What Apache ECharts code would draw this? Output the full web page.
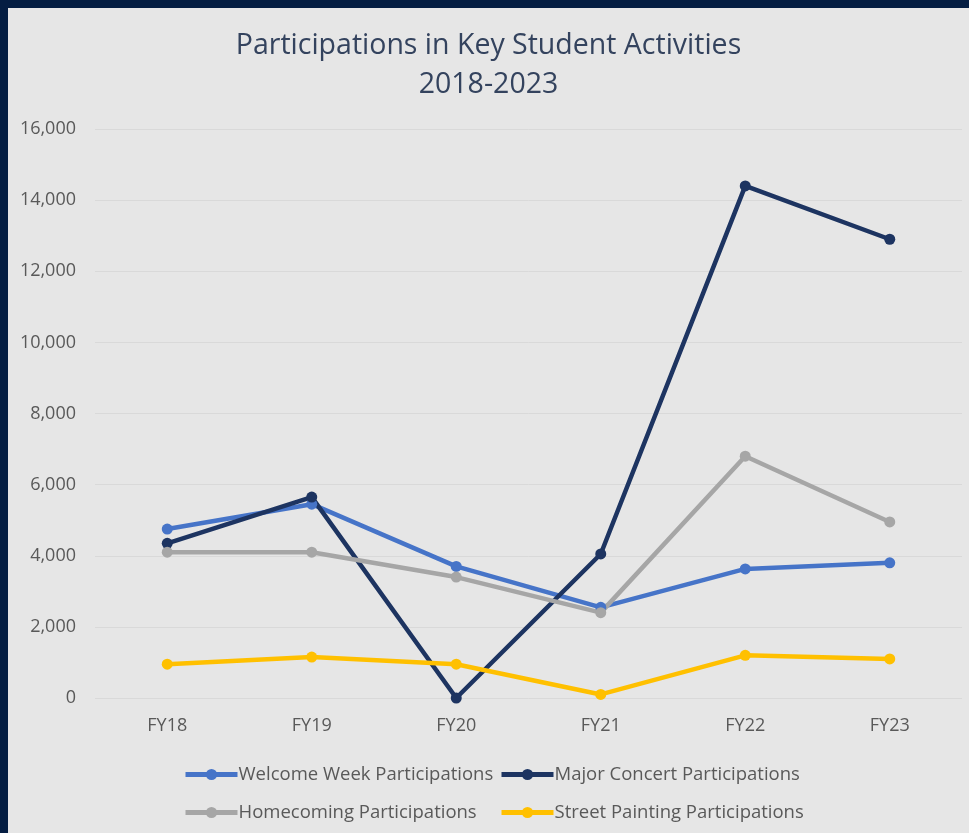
<!DOCTYPE html>
<html>
<head>
<meta charset="utf-8">
<script src="https://cdn.jsdelivr.net/npm/echarts@6/dist/echarts.min.js"></script>
<style>
html,body{margin:0;padding:0;background:#041d42;width:969px;height:833px;overflow:hidden;}
#c{position:absolute;left:8px;top:8px;width:961px;height:825px;}
</style>
</head>
<body>
<div id="c"></div>
<script>
const categories = ['FY18','FY19','FY20','FY21','FY22','FY23'];
const welcomeWeek = [4750, 5450, 3700, 2550, 3630, 3800];
const majorConcert = [4350, 5650, 0, 4050, 14400, 12900];
const homecoming = [4100, 4100, 3400, 2400, 6800, 4950];
const streetPainting = [950, 1150, 950, 100, 1200, 1100];
const seriesNames = ['Welcome Week Participations','Major Concert Participations','Homecoming Participations','Street Painting Participations'];
const colors = ['#4674c8','#1d3461','#a6a6a6','#ffc000'];

const chart = echarts.init(document.getElementById('c'));
const font = 'Open Sans';
function mk(name, data, color){
  return {name, type:'line', data, color, symbol:'circle', symbolSize:11,
    lineStyle:{width:4.5, color}, itemStyle:{color}, animation:false};
}
function lg(name, left, top){
  return {data:[name], left, top, padding:0, itemWidth:52, itemHeight:14, itemGap:2,
    lineStyle:{width:5},
    textStyle:{fontFamily:font, fontSize:18.5, color:'#595959', padding:[0,0,0,-4]}, selectedMode:false};
}
chart.setOption({
  backgroundColor:'#e6e6e6',
  animation:false,
  title:{
    text:'Participations in Key Student Activities\n2018-2023',
    left:'center', top:13,
    textStyle:{fontFamily:font, fontSize:28.5, fontWeight:'normal', color:'#34435e', lineHeight:39}
  },
  legend:[
    lg(seriesNames[0], 175, 757),
    lg(seriesNames[1], 491, 757),
    lg(seriesNames[2], 175, 795),
    lg(seriesNames[3], 491, 795)
  ],
  grid:{left:87, right:7, top:121, bottom:135},
  xAxis:{type:'category', data:categories, boundaryGap:true,
    axisLine:{show:false}, axisTick:{show:false},
    axisLabel:{fontFamily:font, fontSize:18, color:'#595959', margin:19}},
  yAxis:{type:'value', min:0, max:16000, interval:2000,
    axisLine:{show:false}, axisTick:{show:false},
    splitLine:{lineStyle:{color:'#d9d9d9', width:1}},
    axisLabel:{fontFamily:font, fontSize:18, color:'#595959', margin:19,
      formatter:v=>v.toLocaleString('en-US')}},
  series:[
    mk(seriesNames[0], welcomeWeek, colors[0]),
    mk(seriesNames[1], majorConcert, colors[1]),
    mk(seriesNames[2], homecoming, colors[2]),
    mk(seriesNames[3], streetPainting, colors[3])
  ]
});
</script>
</body>
</html>
